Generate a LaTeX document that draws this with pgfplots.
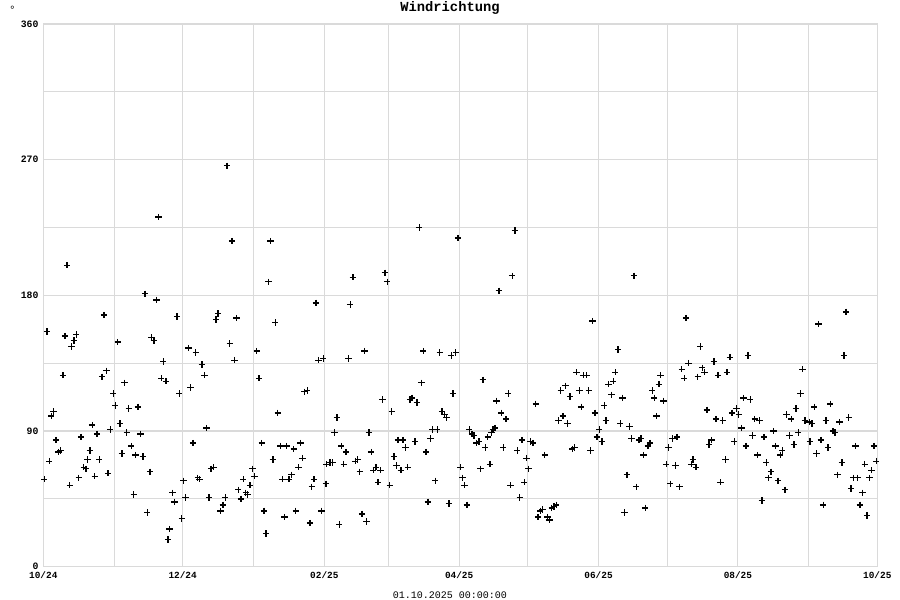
\documentclass[border=0pt]{standalone}
\usepackage{fontspec}
\setmainfont{Liberation Mono}
\usepackage{pgfplots}
\pgfplotsset{compat=1.18}
\definecolor{gridgray}{RGB}{218,218,218}
\begin{document}
\begin{tikzpicture}
\useasboundingbox (-21.65pt,-16.65pt) rectangle (428.35pt,283.35pt);
\begin{axis}[
  at={(0,0)}, anchor=south west,
  scale only axis, width=417pt, height=271.35pt,
  xmin=0, xmax=365, ymin=0, ymax=360,
  /pgf/number format/assume math mode=true,
  axis line style={draw=gridgray, line width=0.55pt},
  grid=both,
  major grid style={draw=gridgray, line width=0.55pt},
  minor grid style={draw=gridgray, line width=0.55pt},
  tick style={draw=none},
  xtick={0,61,123,182,243,304,365},
  xticklabels={10/24,12/24,02/25,04/25,06/25,08/25,10/25},
  minor xtick={31,92,151,212,273,335},
  ytick={0,90,180,270,360},
  minor ytick={45,135,225,315},
  xticklabel style={font=\bfseries\fontsize{4.7}{5}\selectfont, anchor=center, inner sep=0pt, yshift=-4.4pt},
  yticklabel style={font=\bfseries\fontsize{4.9}{5}\selectfont, anchor=east, inner sep=0pt, xshift=-2.2pt},
  clip=false,
]
\addplot[only marks, mark=+, mark size=1.6pt, mark options={line width=0.65pt, draw=black}] table {
0.4 58
1.6 156
2.6 70
3.5 100
4.4 103
5.6 84
6.7 76
7.6 77
8.6 127
9.5 153
10.4 200
11.6 54
12.4 146
13.4 150
14.4 154
15.5 59
16.5 86
17.7 66
18.7 65
19.4 71
20.4 77
21.4 94
22.5 60
23.5 88
24.5 71
25.7 126
26.6 167
27.6 130
28.3 62
29.3 91
30.6 115
31.5 107
32.6 149
33.6 95
34.4 75
35.6 122
36.5 89
37.4 105
38.5 80
39.6 48
40.4 74
41.4 106
42.6 88
43.6 73
44.5 181
45.5 36
46.7 63
47.4 152
48.4 150
49.5 177
50.5 232
51.6 125
52.5 136
53.7 123
54.6 18
55.3 25
56.5 49
57.5 43
58.5 166
59.5 115
60.6 32
61.4 57
62.3 46
63.6 145
64.5 119
65.5 82
66.7 142
67.6 59
68.4 58
69.4 134
70.6 127
71.5 92
72.5 46
73.4 65
74.6 66
75.6 164
76.5 168
77.5 37
78.6 41
79.6 46
80.4 266
81.6 148
82.6 216
83.6 137
84.5 165
85.3 51
86.5 45
87.5 58
88.6 49
89.4 48
90.5 54
91.5 65
92.5 60
93.4 143
94.4 125
95.6 82
96.6 37
97.5 22
98.5 189
99.5 216
100.5 71
101.5 162
102.6 102
103.7 80
104.6 58
105.5 33
106.5 80
107.5 58
108.7 61
109.6 78
110.5 37
111.6 66
112.5 82
113.5 72
114.4 116
115.5 117
116.7 29
117.5 53
118.5 58
119.3 175
120.5 137
121.7 37
122.5 138
123.7 55
124.0 68
125.5 69
126.5 69
127.5 89
128.5 99
129.5 28
130.4 80
131.5 68
132.5 76
133.5 138
134.3 174
135.5 192
136.5 70
137.6 71
138.5 63
139.5 35
140.5 143
141.5 30
142.5 89
143.5 76
144.4 64
145.6 66
146.5 56
147.6 64
148.5 111
149.5 195
150.5 189
151.6 54
152.5 103
153.5 73
154.5 67
155.2 84
156.5 64
157.4 84
158.6 79
159.5 66
160.5 111
161.3 112
162.7 83
163.5 109
164.5 225
165.6 122
166.3 143
167.5 76
168.3 43
169.5 85
170.4 91
171.5 57
172.4 91
173.5 142
174.5 103
175.5 101
176.5 99
177.5 42
178.5 140
179.3 115
180.5 142
181.5 218
182.5 66
183.5 59
184.4 54
185.4 41
186.4 91
187.6 88
188.5 87
189.5 82
190.7 83
191.4 65
192.4 124
193.4 79
194.5 86
195.5 68
196.1 89
196.8 91
197.7 92
198.4 110
199.4 183
200.4 102
201.3 79
202.5 98
203.5 115
204.5 54
205.2 193
206.4 223
207.4 77
208.5 46
209.5 84
210.5 56
211.5 72
212.4 65
213.3 83
214.3 82
215.5 108
216.5 33
217.5 37
218.5 38
219.5 74
220.7 33
221.6 31
222.5 39
223.5 40
224.5 41
225.5 97
226.5 117
227.4 100
228.6 120
229.5 95
230.5 113
231.5 78
232.4 79
233.4 129
234.6 117
235.4 106
236.3 127
237.8 127
238.7 117
239.4 77
240.4 163
241.4 102
242.3 86
243.3 91
244.5 83
245.5 107
246.2 97
247.4 121
248.6 114
249.4 123
250.3 129
251.5 144
252.5 95
253.4 112
254.3 36
255.4 61
256.6 93
257.5 85
258.5 193
259.5 53
260.7 84
261.6 85
262.6 74
263.4 39
264.6 80
265.5 82
266.5 117
267.4 112
268.4 100
269.4 121
270.2 127
271.5 110
272.6 68
273.7 79
274.4 55
275.4 85
276.6 67
277.4 86
278.5 53
279.4 131
280.5 125
281.3 165
282.4 135
283.6 68
284.4 71
285.6 66
286.4 126
287.5 146
288.4 132
289.4 129
290.4 104
291.4 81
292.5 84
293.5 136
294.4 98
295.3 127
296.4 56
297.4 97
298.5 71
299.2 129
300.5 139
301.4 102
302.4 83
303.4 105
304.4 101
305.6 92
306.5 112
307.5 80
308.4 140
309.4 111
310.4 87
311.4 98
312.5 74
313.5 97
314.5 44
315.4 86
316.4 69
317.4 59
318.5 63
319.5 90
320.5 80
321.6 57
322.5 74
323.4 77
324.6 51
325.3 101
326.5 87
327.3 98
328.5 81
329.4 105
330.4 89
331.4 115
332.3 131
333.3 97
335.2 96
335.5 83
336.4 95
337.4 106
338.4 75
339.3 161
340.3 84
341.3 41
342.5 97
343.4 79
344.4 108
345.6 90
346.5 89
347.5 61
348.5 96
349.5 69
350.4 140
351.3 169
352.5 99
353.5 52
354.5 59
355.5 80
356.4 59
357.4 41
358.6 49
359.5 68
360.5 34
361.5 59
362.5 64
363.5 80
364.5 70
};
\end{axis}
\node[font=\bfseries\fontsize{6.9}{7}\selectfont, inner sep=0pt] at (203.35pt,279.4pt) {Windrichtung};
\node[font=\fontsize{5.5}{5.5}\selectfont, inner sep=0pt] at (-15.4pt,278.6pt) {°};
\node[font=\fontsize{5}{5}\selectfont, inner sep=0pt] at (203.35pt,-14.3pt) {01.10.2025 00:00:00};
\end{tikzpicture}
\end{document}
